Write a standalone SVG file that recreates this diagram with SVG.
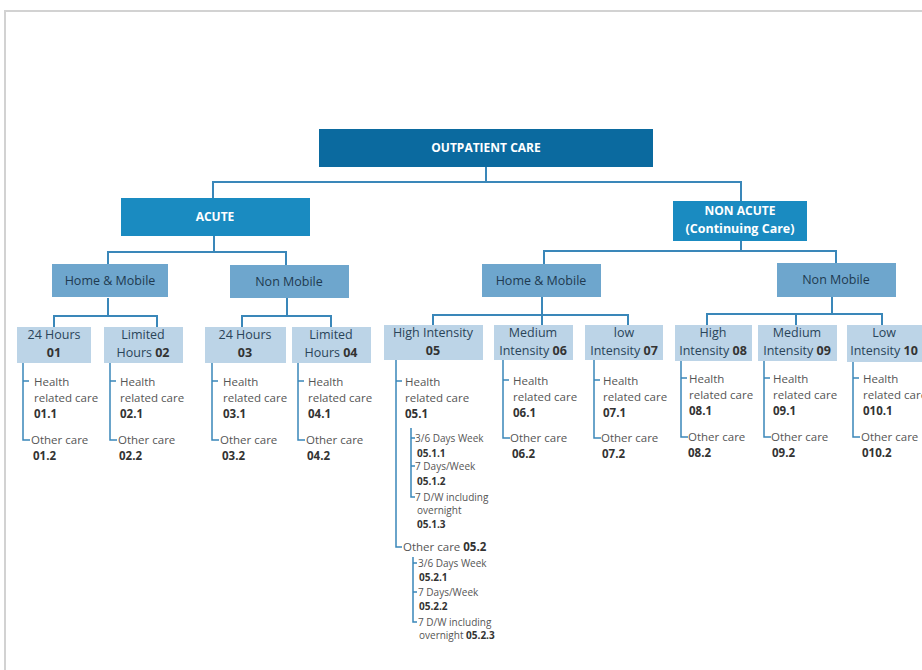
<svg xmlns="http://www.w3.org/2000/svg" width="922" height="670" viewBox="0 0 922 670">
<style>
text{font-family:"Open Sans","DejaVu Sans",sans-serif}
.l0{fill:#0b6a9f}
.l1{fill:#1a8bc1}
.l2{fill:#6ea6cd}
.l3{fill:#bcd4e7}
.wt{fill:#fff;font-weight:bold;font-size:12px;text-anchor:middle}
.t2{fill:#1e3a50;font-size:12.5px;text-anchor:middle}
.t3{fill:#2a4459;font-size:12.5px;text-anchor:middle}
.lf{fill:#555;font-size:11.5px}
.sm{fill:#555;font-size:10px}
.b{font-weight:bold;fill:#333}
.cn{fill:none;stroke:#3a87b9;stroke-width:2}
.tr{fill:none;stroke:#3a87b9;stroke-width:1.5}
</style>
<rect width="922" height="670" fill="#fff"/>
<path d="M5 670V11H922" fill="none" stroke="#d2d2d2" stroke-width="2"/>

<g id="connectors">
<path class="cn" d="M486 167V182M213 198V182H741V201"/>
<path class="cn" d="M214 236V252M108 264V252H286V265"/>
<path class="cn" d="M741 241V251M544 264V251H836V263"/>
<path class="cn" d="M108 298V316M54 327V316H157V327"/>
<path class="cn" d="M287 298V316M242 327V316H331V327"/>
<path class="cn" d="M542 297V325M433 325V315H628V325"/>
<path class="cn" d="M832 297V314M707 325V314H882V325M796 314V325"/>
<g class="tr">
<path d="M23 363V440H30M23 381H29"/>
<path d="M110 363V440H117M110 381H116"/>
<path d="M212 363V440H219M212 381H218"/>
<path d="M298 363V440H305M298 381H304"/>
<path d="M396 360V547H402M396 381H402"/>
<path d="M411 428V497H415M411 438H415M411 466H415"/>
<path d="M413 557V622H417M413 563H417M413 592H417"/>
<path d="M503 360V438H510M503 380H509"/>
<path d="M594 360V438H601M594 380H600"/>
<path d="M681 361V437H688M681 378H687"/>
<path d="M764 361V437H771M764 378H770"/>
<path d="M853 362V437H860M853 378H859"/>
</g>
</g>

<g id="outpatient"><rect class="l0" x="319" y="129" width="334" height="38"/><text class="wt" x="486" y="152">OUTPATIENT CARE</text></g>
<g id="acute"><rect class="l1" x="121" y="198" width="189" height="38"/><text class="wt" x="215" y="221">ACUTE</text></g>
<g id="nonacute"><rect class="l1" x="673" y="201" width="134" height="40"/><text class="wt" x="740" y="215" font-size="12.5">NON ACUTE</text><text class="wt" x="740" y="233" style="font-size:12.5px">(Continuing Care)</text></g>

<g id="a-home"><rect class="l2" x="52" y="264" width="116" height="33"/><text class="t2" x="110" y="285">Home &amp; Mobile</text></g>
<g id="a-nonmobile"><rect class="l2" x="230" y="265" width="119" height="33"/><text class="t2" x="289" y="286">Non Mobile</text></g>
<g id="n-home"><rect class="l2" x="482" y="264" width="119" height="33"/><text class="t2" x="541" y="285">Home &amp; Mobile</text></g>
<g id="n-nonmobile"><rect class="l2" x="777" y="263" width="119" height="34"/><text class="t2" x="836" y="284">Non Mobile</text></g>

<g id="n01"><rect class="l3" x="17" y="327" width="74" height="36"/><text class="t3" x="54" y="339">24 Hours</text><text class="t3 b" x="54" y="357">01</text>
<text class="lf" x="34" y="386">Health</text><text class="lf" x="34" y="402">related care</text><text class="lf b" x="34" y="418">01.1</text><text class="lf" x="31" y="444">Other care</text><text class="lf b" x="33" y="460">01.2</text></g>
<g id="n02"><rect class="l3" x="104" y="327" width="79" height="36"/><text class="t3" x="143" y="339">Limited</text><text class="t3" x="143" y="357">Hours <tspan class="b">02</tspan></text>
<text class="lf" x="120" y="386">Health</text><text class="lf" x="120" y="402">related care</text><text class="lf b" x="120" y="418">02.1</text><text class="lf" x="118" y="444">Other care</text><text class="lf b" x="119" y="460">02.2</text></g>
<g id="n03"><rect class="l3" x="205" y="327" width="81" height="36"/><text class="t3" x="245" y="339">24 Hours</text><text class="t3 b" x="245" y="357">03</text>
<text class="lf" x="223" y="386">Health</text><text class="lf" x="223" y="402">related care</text><text class="lf b" x="223" y="418">03.1</text><text class="lf" x="220" y="444">Other care</text><text class="lf b" x="222" y="460">03.2</text></g>
<g id="n04"><rect class="l3" x="292" y="327" width="79" height="36"/><text class="t3" x="331" y="339">Limited</text><text class="t3" x="331" y="357">Hours <tspan class="b">04</tspan></text>
<text class="lf" x="308" y="386">Health</text><text class="lf" x="308" y="402">related care</text><text class="lf b" x="308" y="418">04.1</text><text class="lf" x="306" y="444">Other care</text><text class="lf b" x="307" y="460">04.2</text></g>

<g id="n05"><rect class="l3" x="384" y="325" width="99" height="35"/><text class="t3" x="433" y="337">High Intensity</text><text class="t3 b" x="433" y="355">05</text>
<text class="lf" x="405" y="386">Health</text><text class="lf" x="405" y="402">related care</text><text class="lf b" x="405" y="418">05.1</text>
<text class="sm" x="415" y="442">3/6 Days Week</text><text class="sm b" x="417" y="457">05.1.1</text>
<text class="sm" x="415" y="470">7 Days/Week</text><text class="sm b" x="417" y="485">05.1.2</text>
<text class="sm" x="415" y="501">7 D/W including</text><text class="sm" x="417" y="514">overnight</text><text class="sm b" x="417" y="528">05.1.3</text>
<text class="lf" x="403" y="551">Other care <tspan class="b">05.2</tspan></text>
<text class="sm" x="418" y="567">3/6 Days Week</text><text class="sm b" x="419" y="581">05.2.1</text>
<text class="sm" x="418" y="596">7 Days/Week</text><text class="sm b" x="419" y="610">05.2.2</text>
<text class="sm" x="418" y="626">7 D/W including</text><text class="sm" x="419" y="639">overnight <tspan class="b">05.2.3</tspan></text></g>

<g id="n06"><rect class="l3" x="494" y="325" width="79" height="35"/><text class="t3" x="533" y="337">Medium</text><text class="t3" x="533" y="355">Intensity <tspan class="b">06</tspan></text>
<text class="lf" x="513" y="385">Health</text><text class="lf" x="513" y="401">related care</text><text class="lf b" x="513" y="417">06.1</text><text class="lf" x="510" y="442">Other care</text><text class="lf b" x="512" y="458">06.2</text></g>
<g id="n07"><rect class="l3" x="585" y="325" width="78" height="35"/><text class="t3" x="624" y="337">low</text><text class="t3" x="624" y="355">Intensity <tspan class="b">07</tspan></text>
<text class="lf" x="603" y="385">Health</text><text class="lf" x="603" y="401">related care</text><text class="lf b" x="603" y="417">07.1</text><text class="lf" x="601" y="442">Other care</text><text class="lf b" x="602" y="458">07.2</text></g>
<g id="n08"><rect class="l3" x="675" y="325" width="77" height="36"/><text class="t3" x="713" y="337">High</text><text class="t3" x="713" y="355">Intensity <tspan class="b">08</tspan></text>
<text class="lf" x="689" y="383">Health</text><text class="lf" x="689" y="399">related care</text><text class="lf b" x="689" y="415">08.1</text><text class="lf" x="688" y="441">Other care</text><text class="lf b" x="688" y="457">08.2</text></g>
<g id="n09"><rect class="l3" x="758" y="325" width="79" height="36"/><text class="t3" x="797" y="337">Medium</text><text class="t3" x="797" y="355">Intensity <tspan class="b">09</tspan></text>
<text class="lf" x="773" y="383">Health</text><text class="lf" x="773" y="399">related care</text><text class="lf b" x="773" y="415">09.1</text><text class="lf" x="771" y="441">Other care</text><text class="lf b" x="772" y="457">09.2</text></g>
<g id="n10"><rect class="l3" x="847" y="325" width="75" height="37"/><text class="t3" x="884" y="337">Low</text><text class="t3" x="884" y="355">Intensity <tspan class="b">10</tspan></text>
<text class="lf" x="863" y="383">Health</text><text class="lf" x="863" y="399">related care</text><text class="lf b" x="863" y="415">010.1</text><text class="lf" x="861" y="441">Other care</text><text class="lf b" x="862" y="457">010.2</text></g>
</svg>
